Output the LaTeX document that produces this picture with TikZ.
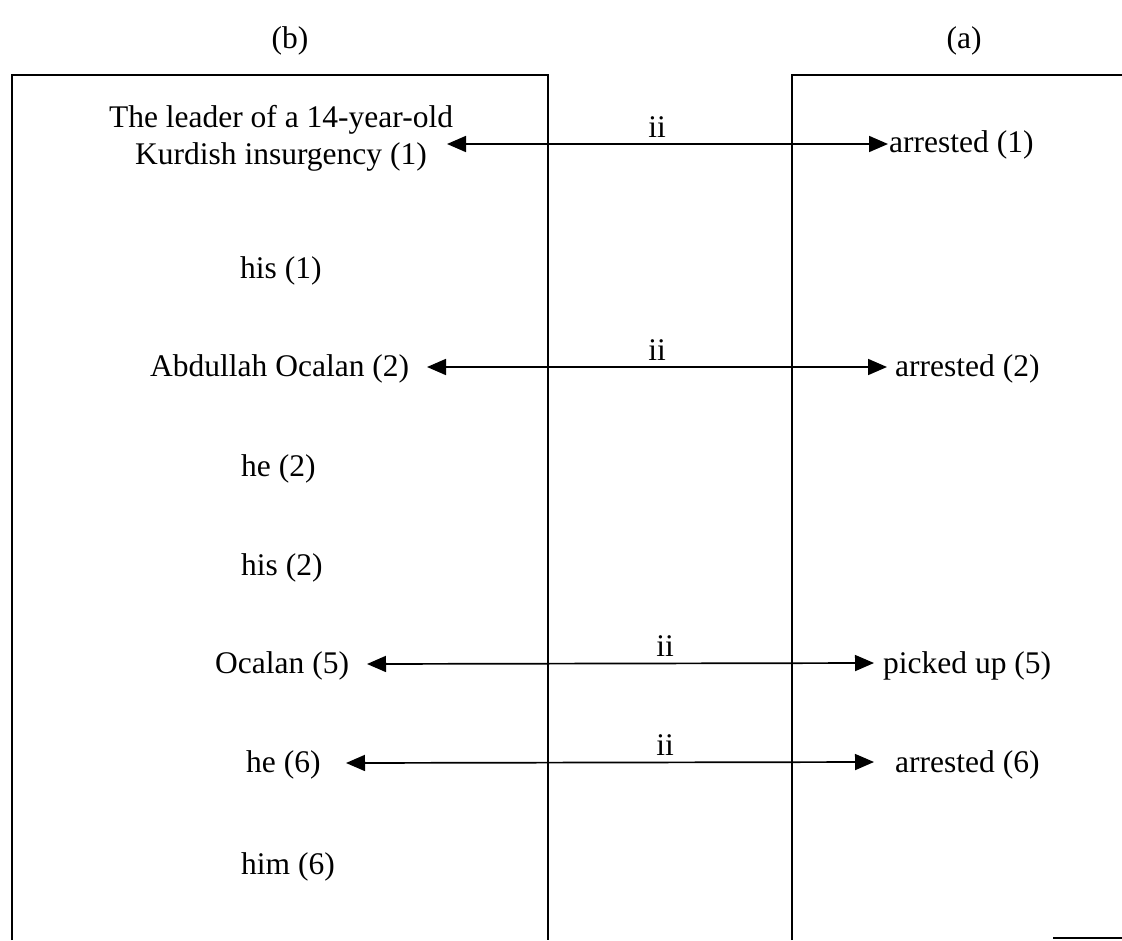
\documentclass[tikz,border=0pt]{standalone}
\usepackage{fontspec}
\setmainfont{Liberation Serif}
\usetikzlibrary{arrows.meta}

\tikzset{
  txt/.style={anchor=base west, inner sep=0pt, font=\fontsize{31.5}{36}\selectfont},
  ctxt/.style={anchor=base, inner sep=0pt, font=\fontsize{31.5}{36}\selectfont},
  frame/.style={line width=1.8pt},
  link/.style={line width=1.7pt, {Triangle[length=19pt,width=16pt]}-{Triangle[length=19pt,width=16pt]}},
  rel/.style={above=6pt, inner sep=0pt, font=\fontsize{31.5}{36}\selectfont}
}

\begin{document}
\begin{tikzpicture}[x=1pt,y=-1pt]
\useasboundingbox (0,0) rectangle (1122,940);

% column headings
\node[ctxt] (hb) at (290,48) {(b)};
\node[ctxt] (ha) at (964,48) {(a)};

% the two open frames
\draw[frame] (12,940) -- (12,75) -- (548,75) -- (548,940);
\draw[frame] (792,940) -- (792,75) -- (1122,75);
\draw[frame] (1053,938) -- (1122,938);

% mentions, column (b)
\node[ctxt] (b1a) at (281,127) {The leader of a 14-year-old};
\node[ctxt] (b1b) at (281,164) {Kurdish insurgency (1)};
\node[txt] (b2) at (240,278) {his (1)};
\node[txt] (b3) at (150,376) {Abdullah Ocalan (2)};
\node[txt] (b4) at (241,476) {he (2)};
\node[txt] (b5) at (241,575) {his (2)};
\node[txt] (b6) at (215,673) {Ocalan (5)};
\node[txt] (b7) at (246,772) {he (6)};
\node[txt] (b8) at (241,874) {him (6)};

% events, column (a)
\node[txt] (a1) at (889,152) {arrested (1)};
\node[txt] (a2) at (895,376) {arrested (2)};
\node[txt] (a3) at (883,673) {picked up (5)};
\node[txt] (a4) at (895,772) {arrested (6)};

% arrow end points
\coordinate (l1) at (447,144);
\coordinate (r1) at (888,144);
\coordinate (l2) at (427,367);
\coordinate (r2) at (887,367);
\coordinate (l3) at (367,664);
\coordinate (r3) at (874,663);
\coordinate (l4) at (346,763);
\coordinate (r4) at (874,762);

% links
\draw[link] (l1) -- (r1);
\draw[link] (l2) -- (r2);
\draw[link] (l3) -- (r3);
\draw[link] (l4) -- (r4);

% relation labels
\node[rel] (e1) at (657,144) {ii};
\node[rel] (e2) at (657,367) {ii};
\node[rel] (e3) at (665,663) {ii};
\node[rel] (e4) at (665,762) {ii};
\end{tikzpicture}
\end{document}
